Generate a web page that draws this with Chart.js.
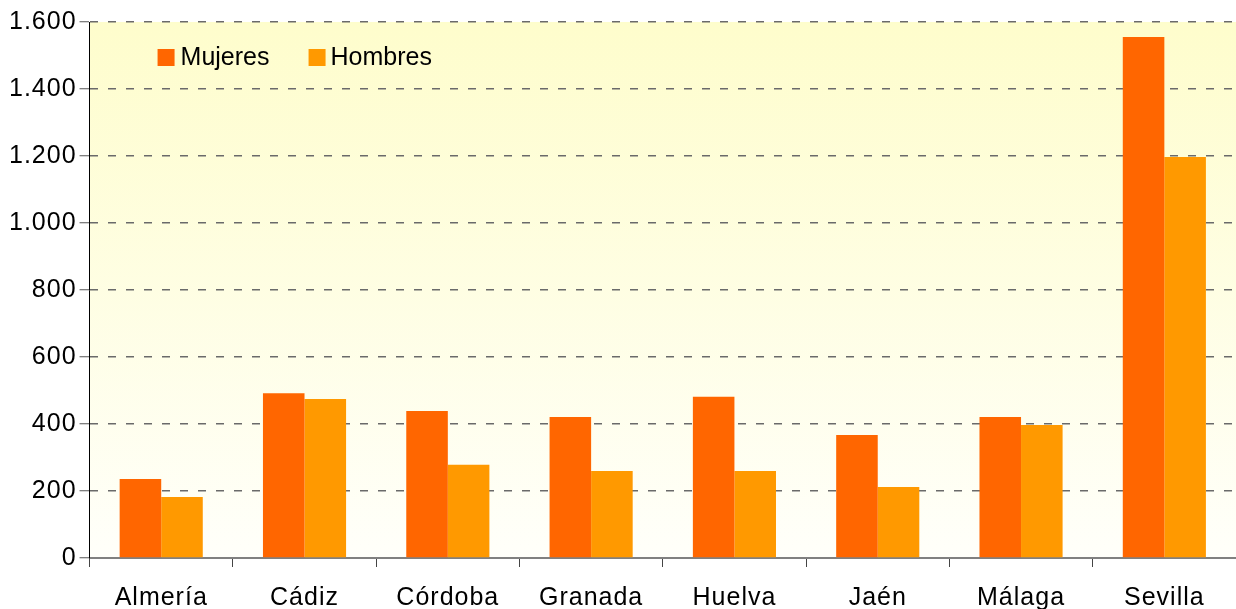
<!DOCTYPE html>
<html>
<head>
<meta charset="utf-8">
<script src="https://cdn.jsdelivr.net/npm/chart.js@4.4.1/dist/chart.umd.min.js"></script>
<style>
  html, body { margin: 0; padding: 0; background: #fff; }
  #wrap { width: 1236px; height: 609px; }
</style>
</head>
<body>
<div id="wrap"><canvas id="chart" width="1236" height="609"></canvas></div>
<script>
// Provincias y valores
var provincias = ['Almería', 'Cádiz', 'Córdoba', 'Granada', 'Huelva', 'Jaén', 'Málaga', 'Sevilla'];
var mujeres = [236, 492, 439, 421, 481, 367, 421, 1555];
var hombres = [182, 475, 278, 260, 260, 212, 397, 1197];
var yTicks = [0, 200, 400, 600, 800, 1000, 1200, 1400, 1600];

var FONT = '"Liberation Sans", Arial, sans-serif';

// Fondo degradado del área de trazado (y espaciado de letras de los ejes)
var plotBackground = {
    id: 'plotBackground',
    beforeDraw: function(chart) {
        var a = chart.chartArea, ctx = chart.ctx;
        var g = ctx.createLinearGradient(0, a.top, 0, a.bottom);
        g.addColorStop(0, '#FEFDCC');
        g.addColorStop(1, '#FFFFFA');
        ctx.save();
        ctx.fillStyle = g;
        ctx.fillRect(a.left, a.top, a.right - a.left, a.bottom - a.top);
        ctx.restore();
        ctx.letterSpacing = '1px';
    }
};

// Leyenda dentro del área de trazado
var insideLegend = {
    id: 'insideLegend',
    afterDraw: function(chart) {
        var a = chart.chartArea, ctx = chart.ctx;
        ctx.letterSpacing = '0px';
        var x = a.left + 68, y = a.top + 27;
        var offsets = [0, 151];
        ctx.save();
        ctx.font = '25px ' + FONT;
        ctx.textBaseline = 'middle';
        chart.data.datasets.forEach(function(ds, i) {
            var bx = x + offsets[i];
            ctx.fillStyle = ds.backgroundColor;
            ctx.fillRect(bx, y, 17, 17);
            ctx.fillStyle = '#000';
            ctx.fillText(ds.label, bx + 23 - (i ? 1 : 0), y + 9);
        });
        ctx.restore();
    }
};

var ctx = document.getElementById('chart').getContext('2d');
ctx.letterSpacing = '1px';
var chart = new Chart(ctx, {
    type: 'bar',
    data: {
        labels: provincias,
        datasets: [
            { label: 'Mujeres', data: mujeres, backgroundColor: '#FF6600' },
            { label: 'Hombres', data: hombres, backgroundColor: '#FF9900' }
        ]
    },
    options: {
        responsive: false,
        animation: false,
        devicePixelRatio: 1,
        layout: { padding: { left: 11, top: 22, right: 0, bottom: 0 } },
        datasets: {
            bar: { categoryPercentage: 0.58, barPercentage: 1.0 }
        },
        plugins: {
            legend: { display: false },
            tooltip: { enabled: false }
        },
        scales: {
            x: {
                afterFit: function(scale) { scale.height = 51; },
                grid: {
                    offset: true,
                    drawOnChartArea: false,
                    tickLength: 9,
                    tickColor: '#444',
                    tickWidth: 1
                },
                border: { display: true, color: '#808080', width: 2 },
                ticks: {
                    color: '#000',
                    font: { family: FONT, size: 25 },
                    padding: 16,
                    maxRotation: 0
                }
            },
            y: {
                min: 0,
                max: 1600,
                afterBuildTicks: function(scale) {
                    scale.ticks = yTicks.map(function(v) { return { value: v }; });
                },
                grid: {
                    color: function(c) { return c.tick && c.tick.value === 0 ? 'rgba(0,0,0,0)' : '#6a6a6a'; },
                    lineWidth: 1.5,
                    tickLength: 10,
                    tickColor: '#555',
                    tickWidth: 1
                },
                border: { display: true, color: '#000', width: 1, dash: [8, 10] },
                ticks: {
                    color: '#000',
                    font: { family: FONT, size: 25 },
                    padding: 3,
                    callback: function(v) {
                        return String(v).replace(/\B(?=(\d{3})+(?!\d))/g, '.');
                    }
                }
            }
        }
    },
    plugins: [plotBackground, insideLegend]
});
</script>
</body>
</html>
